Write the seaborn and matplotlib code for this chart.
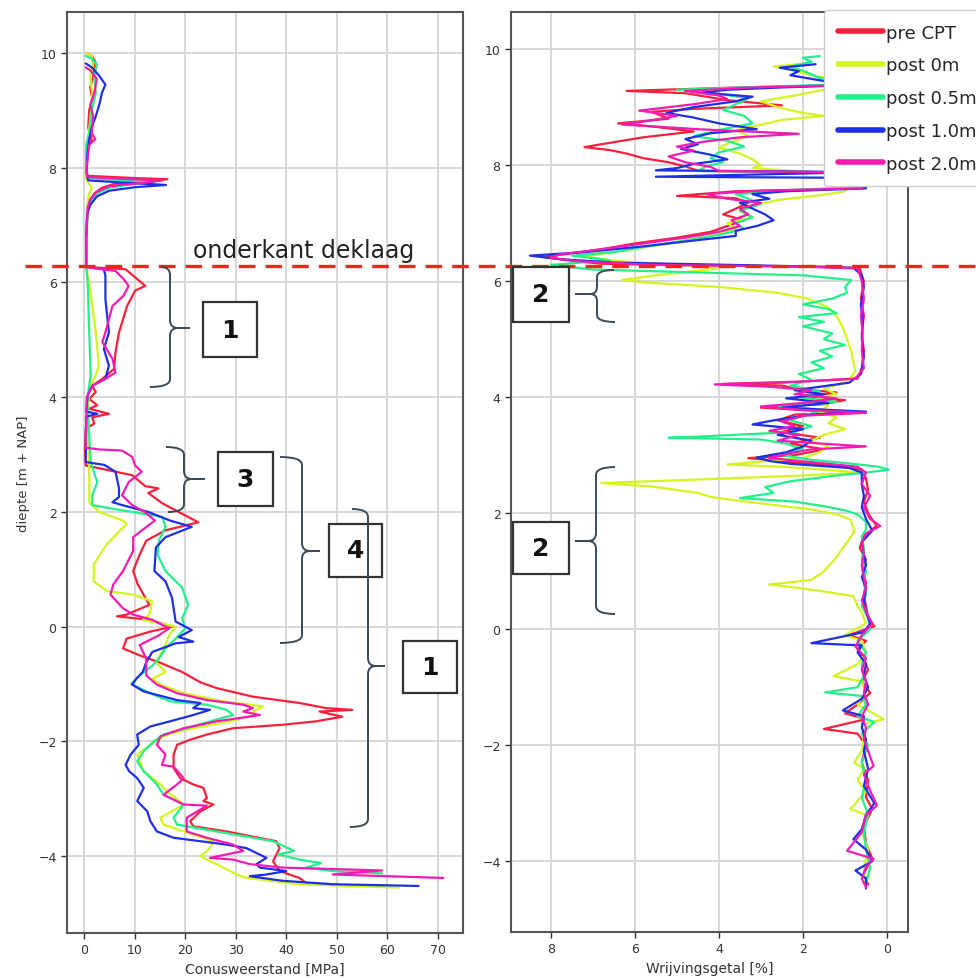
import matplotlib
matplotlib.use("Agg")
import matplotlib.pyplot as plt
import seaborn as sns
import pandas as pd
from matplotlib.lines import Line2D
from matplotlib.patches import Rectangle, PathPatch
from matplotlib.path import Path

SERIES = ["pre CPT", "post 0m", "post 0.5m", "post 1.0m", "post 2.0m"]
COLORS = ["#f8203a", "#d2f51e", "#22f08a", "#1f2fe6", "#f41ab4"]

# ---------------- cone resistance (left panel) ----------------
QC_PRE_DEPTH = [10.0, 9.95, 9.85, 9.6, 9.4, 9.2, 9.0, 8.7, 8.5, 8.3, 8.0, 7.86, 7.82, 7.8, 7.77, 7.72, 7.65, 7.55, 7.4, 7.2, 6.8, 6.27, 6.23, 5.94, 5.86, 5.59, 5.13, 4.78, 4.49, 4.32, 4.2, 4.09, 3.97, 3.86, 3.8, 3.71, 3.65, 3.54, 3.45, 3.1, 2.81, 2.75, 2.64, 2.45, 2.41, 2.33, 2.15, 2.06, 1.82, 1.68, 1.5, 1.26, 0.97, 0.74, 0.38, 0.21, 0.18, 0.12, 0.0, -0.09, -0.21, -0.38, -0.5, -0.62, -0.79, -0.97, -1.07, -1.22, -1.33, -1.42, -1.45, -1.48, -1.57, -1.65, -1.71, -1.77, -1.88, -1.97, -2.06, -2.23, -2.46, -2.64, -2.75, -2.81, -2.99, -3.04, -3.1, -3.22, -3.39, -3.48, -3.57, -3.74, -3.86, -4.09, -4.26, -4.38, -4.47]
QC_PRE_VALUE = [0.5, 1.5, 2.2, 1.8, 1.2, 1.6, 1.0, 0.8, 1.5, 0.6, 0.5, 0.6, 10, 16.5, 12, 6, 3.5, 2, 1, 0.6, 0.4, 0.4, 8.2, 12.1, 10.1, 8.5, 6.9, 6.2, 5.9, 3.6, 1.6, 2.3, 1.0, 2.6, 1.0, 4.9, 1.6, 2.0, 0.3, 0.2, 0.3, 3.6, 9.5, 12.1, 14.7, 12.7, 15.5, 17.4, 22.6, 16.1, 12.3, 11.0, 9.7, 10.6, 12.9, 8.4, 6.5, 12.9, 17.4, 12.9, 8.4, 7.7, 11.0, 14.8, 19.4, 23.0, 26.2, 33.4, 42.6, 47.9, 53.1, 46.6, 51.1, 45.9, 39.3, 29.5, 24.3, 21.0, 18.4, 17.7, 17.7, 19.0, 21.6, 23.6, 24.3, 23.6, 25.6, 23.0, 21.0, 21.6, 28.2, 38.0, 38.7, 37.4, 38.7, 42.6, 44.0]

QC_P0_DEPTH = [10.0, 9.95, 9.8, 9.6, 9.3, 9.0, 8.6, 8.3, 7.9, 7.8, 7.65, 7.55, 7.3, 6.8, 6.27, 6.0, 5.13, 4.55, 4.38, 4.14, 3.68, 2.81, 2.17, 2.0, 1.85, 1.79, 1.44, 1.09, 0.79, 0.62, 0.56, 0.44, 0.21, 0.12, 0.0, -0.15, -0.32, -0.62, -0.79, -0.91, -1.01, -1.16, -1.3, -1.39, -1.48, -1.54, -1.65, -1.77, -1.88, -2.06, -2.23, -2.52, -2.75, -2.87, -3.1, -3.33, -3.45, -3.57, -3.74, -3.86, -4.0, -4.14, -4.32, -4.38, -4.49, -4.55]
QC_P0_VALUE = [0.5, 1.5, 1.8, 1.2, 1.6, 1.4, 0.9, 0.6, 0.3, 0.4, 1.5, 1.0, 0.5, 0.4, 0.4, 1.0, 2.3, 2.9, 2.3, 1.0, 0.7, 1.0, 1.0, 2.9, 7.7, 8.4, 4.5, 1.9, 1.9, 4.5, 9.7, 13.5, 12.9, 11.6, 18.1, 16.8, 16.1, 14.2, 16.1, 13.5, 15.1, 19.7, 27.5, 35.4, 33.4, 34.1, 28.9, 21.6, 16.4, 13.1, 10.5, 11.8, 15.1, 16.4, 19.7, 15.1, 15.7, 19.7, 25.6, 24.9, 23.0, 26.2, 30.2, 32.1, 42.6, 62.3]

QC_P05_DEPTH = [9.95, 9.9, 9.8, 9.6, 9.3, 9.0, 8.6, 8.4, 8.0, 7.82, 7.78, 7.75, 7.72, 7.65, 7.55, 7.4, 7.2, 6.8, 6.27, 6.0, 5.13, 4.38, 3.97, 2.87, 2.52, 2.29, 2.12, 2.05, 1.95, 1.91, 1.74, 1.5, 1.26, 0.97, 0.68, 0.38, 0.15, -0.03, -0.21, -0.38, -0.56, -0.68, -0.85, -1.0, -1.19, -1.3, -1.36, -1.45, -1.54, -1.65, -1.77, -1.88, -2.0, -2.17, -2.35, -2.52, -2.75, -2.93, -3.1, -3.33, -3.45, -3.51, -3.62, -3.74, -3.91, -3.97, -4.06, -4.12, -4.2, -4.26, -4.3]
QC_P05_VALUE = [0.3, 1.5, 2.5, 2.0, 2.3, 1.5, 1.0, 0.4, 0.4, 0.6, 8, 14, 10, 5, 2.5, 1.2, 0.7, 0.5, 0.4, 0.7, 1.0, 1.3, 0.6, 1.3, 2.6, 1.6, 1.6, 6.0, 13.0, 15.5, 16.1, 14.8, 14.5, 16.1, 19.4, 20.6, 19.4, 20.0, 18.1, 16.1, 14.8, 13.5, 11.0, 9.3, 13.8, 17.0, 24.3, 28.2, 29.5, 24.9, 20.3, 15.7, 13.8, 11.8, 10.5, 11.8, 14.4, 15.7, 19.7, 17.7, 18.4, 22.3, 29.5, 37.4, 41.6, 38.4, 42.6, 46.9, 43.9, 49.2, 59.0]

QC_P10_DEPTH = [9.82, 9.75, 9.6, 9.45, 9.3, 9.1, 8.9, 8.7, 8.5, 8.2, 7.9, 7.78, 7.74, 7.7, 7.66, 7.6, 7.5, 7.35, 7.2, 6.8, 6.27, 6.23, 6.12, 5.71, 5.13, 4.84, 4.55, 4.32, 4.2, 4.03, 3.75, 3.71, 3.66, 2.87, 2.82, 2.7, 2.41, 2.26, 2.17, 2.12, 2.0, 1.85, 1.74, 1.56, 1.38, 0.97, 0.79, 0.5, 0.09, -0.06, -0.18, -0.26, -0.29, -0.44, -0.62, -0.79, -0.91, -1.01, -1.13, -1.28, -1.33, -1.42, -1.45, -1.54, -1.65, -1.74, -1.88, -2.06, -2.23, -2.41, -2.52, -2.64, -2.81, -3.04, -3.22, -3.39, -3.57, -3.68, -3.74, -3.8, -3.86, -4.03, -4.14, -4.2, -4.26, -4.32, -4.35, -4.43, -4.49, -4.52]
QC_P10_VALUE = [0.3, 1.5, 3.0, 4.2, 3.5, 3.0, 2.3, 1.5, 1.0, 0.6, 0.5, 0.8, 8, 16.2, 10, 5, 2.5, 1.2, 0.6, 0.4, 0.4, 3.9, 4.2, 4.2, 4.9, 3.9, 4.9, 4.2, 1.6, 0.7, 0.4, 2.6, 0.4, 0.3, 4.0, 6.2, 6.9, 6.9, 5.6, 7.5, 12.7, 17.0, 21.3, 16.1, 14.2, 13.9, 16.1, 17.4, 18.1, 21.3, 18.7, 21.6, 18.1, 13.5, 12.3, 11.6, 10.3, 9.5, 11.8, 18.4, 23.0, 21.6, 24.9, 21.6, 17.0, 13.1, 10.5, 10.8, 9.2, 8.2, 8.9, 10.5, 11.8, 10.5, 12.5, 13.1, 14.4, 17.7, 23.0, 28.2, 32.1, 36.1, 34.1, 34.8, 40.0, 36.1, 32.8, 39.3, 49.2, 66.2]

QC_P20_DEPTH = [9.75, 9.7, 9.55, 9.3, 9.1, 8.9, 8.6, 8.5, 8.4, 8.0, 7.84, 7.8, 7.78, 7.74, 7.68, 7.58, 7.45, 7.3, 6.8, 6.27, 6.2, 6.06, 5.94, 5.77, 5.59, 5.13, 4.96, 4.67, 4.43, 4.32, 4.2, 4.0, 3.12, 3.09, 3.07, 2.96, 2.81, 2.7, 2.52, 2.29, 2.12, 2.0, 1.85, 1.65, 1.56, 1.32, 0.97, 0.74, 0.56, 0.32, 0.21, 0.12, -0.03, -0.15, -0.32, -0.56, -0.85, -1.01, -1.16, -1.28, -1.36, -1.42, -1.48, -1.54, -1.65, -1.77, -1.91, -2.06, -2.23, -2.41, -2.44, -2.64, -2.75, -2.93, -3.1, -3.12, -3.33, -3.57, -3.68, -3.8, -3.91, -4.03, -4.06, -4.14, -4.2, -4.25, -4.32, -4.38]
QC_P20_VALUE = [0.3, 1.2, 2.5, 2.0, 1.2, 1.8, 1.5, 2.2, 1.0, 0.5, 0.6, 9, 15.5, 12, 5, 2.5, 1.2, 0.7, 0.4, 0.4, 6.2, 7.8, 8.8, 7.8, 5.6, 4.2, 3.6, 5.6, 6.2, 4.2, 1.6, 0.5, 0.3, 2.9, 7.5, 9.5, 10.1, 11.4, 8.8, 7.5, 9.5, 12.0, 14.0, 11.0, 9.7, 9.7, 7.7, 5.8, 5.2, 7.7, 9.7, 13.5, 16.8, 14.8, 11.0, 12.3, 12.3, 14.4, 18.4, 24.3, 31.5, 33.4, 31.5, 34.8, 26.2, 19.7, 15.1, 14.4, 16.1, 15.4, 17.7, 19.7, 18.4, 15.7, 19.7, 24.3, 20.3, 20.3, 24.3, 29.5, 31.5, 24.9, 29.5, 32.8, 39.3, 59.0, 49.2, 71.1]

# ---------------- friction ratio (right panel) ----------------
FR_PRE_DEPTH = [9.5, 9.38, 9.34, 9.28, 9.24, 9.12, 9.03, 8.97, 8.92, 8.8, 8.72, 8.66, 8.58, 8.48, 8.36, 8.31, 8.26, 8.2, 8.12, 8.05, 7.98, 7.9, 7.87, 7.7, 7.6, 7.55, 7.47, 7.43, 7.35, 7.25, 7.15, 7.05, 6.95, 6.85, 6.75, 6.65, 6.55, 6.47, 6.42, 6.36, 6.3, 6.27, 6.25, 6.22, 6.0, 5.7, 5.4, 5.1, 4.8, 4.5, 4.32, 4.27, 4.23, 4.2, 4.15, 4.08, 4.0, 3.95, 3.88, 3.82, 3.77, 3.74, 3.7, 3.6, 3.5, 3.4, 3.3, 3.2, 3.1, 3.0, 2.95, 2.9, 2.82, 2.75, 2.6, 2.4, 2.2, 2.0, 1.78, 1.6, 1.4, 1.2, 1.0, 0.8, 0.6, 0.4, 0.2, 0.05, -0.1, -0.2, -0.35, -0.5, -0.7, -0.9, -1.1, -1.3, -1.45, -1.55, -1.72, -1.8, -2.0, -2.3, -2.6, -2.9, -3.1, -3.4, -3.7, -3.95, -4.2, -4.4]
FR_PRE_VALUE = [0.5, 0.9, 3.5, 6.2, 4.8, 3.8, 2.5, 4.6, 5.6, 5.2, 6.4, 5.5, 4.6, 5.8, 6.8, 7.2, 6.6, 6.2, 5.8, 5.2, 4.8, 4.5, 0.5, 0.4, 0.6, 3.6, 5.0, 3.6, 3.3, 3.6, 3.9, 3.4, 3.8, 4.2, 5.0, 6.0, 6.8, 7.6, 8.2, 7.6, 6.8, 4.0, 1.5, 0.65, 0.55, 0.62, 0.55, 0.6, 0.55, 0.6, 0.7, 2.0, 3.9, 2.5, 2.2, 1.2, 2.0, 1.0, 1.5, 3.0, 1.8, 0.5, 2.2, 2.6, 2.0, 2.5, 1.6, 2.3, 1.5, 2.2, 3.3, 2.6, 1.2, 0.6, 0.5, 0.45, 0.55, 0.45, 0.25, 0.55, 0.65, 0.5, 0.58, 0.5, 0.55, 0.5, 0.45, 0.3, 0.9, 0.5, 0.7, 0.55, 0.45, 0.6, 0.4, 0.7, 1.0, 0.5, 1.5, 0.7, 0.5, 0.6, 0.45, 0.5, 0.35, 0.55, 0.5, 0.35, 0.55, 0.45]

FR_P0_DEPTH = [9.75, 9.7, 9.65, 9.55, 9.45, 9.38, 9.3, 9.2, 9.1, 9.0, 8.9, 8.85, 8.78, 8.68, 8.6, 8.5, 8.4, 8.3, 8.2, 8.1, 8.0, 7.95, 7.9, 7.85, 7.7, 7.55, 7.48, 7.4, 7.3, 7.2, 7.1, 7.0, 6.9, 6.8, 6.7, 6.6, 6.5, 6.43, 6.35, 6.28, 6.22, 6.1, 6.02, 5.98, 5.9, 5.8, 5.7, 5.55, 5.4, 5.2, 5.0, 4.8, 4.6, 4.45, 4.35, 4.25, 4.15, 4.05, 3.95, 3.85, 3.75, 3.65, 3.55, 3.45, 3.35, 3.25, 3.15, 3.05, 2.95, 2.84, 2.8, 2.75, 2.7, 2.65, 2.58, 2.52, 2.46, 2.4, 2.35, 2.28, 2.24, 2.15, 2.06, 1.98, 1.89, 1.75, 1.66, 1.5, 1.35, 1.2, 1.0, 0.85, 0.77, 0.72, 0.65, 0.57, 0.4, 0.28, 0.1, -0.1, -0.2, -0.4, -0.6, -0.81, -0.9, -1.1, -1.3, -1.55, -1.65, -1.85, -2.1, -2.3, -2.4, -2.6, -2.8, -3.1, -3.2, -3.5, -3.8, -4.1, -4.4]
FR_P0_VALUE = [2.0, 2.7, 2.3, 1.8, 1.0, 0.6, 1.5, 2.2, 3.0, 2.6, 2.0, 1.5, 2.5, 3.1, 3.6, 3.3, 3.7, 4.0, 3.5, 3.2, 3.0, 3.2, 2.2, 1.0, 0.8, 1.0, 1.6, 2.6, 3.2, 3.5, 3.2, 3.8, 3.6, 4.3, 4.8, 5.6, 6.5, 7.2, 6.5, 5.0, 4.0, 5.5, 6.3, 5.8, 4.0, 2.6, 1.9, 1.4, 1.2, 1.05, 0.95, 0.85, 0.8, 0.75, 0.85, 1.0, 1.5, 1.2, 1.8, 1.4, 1.6, 1.2, 1.4, 1.0, 1.5, 1.8, 1.4, 1.6, 2.0, 3.8, 2.5, 1.5, 0.6, 2.0, 4.5, 6.8, 5.6, 5.0, 4.5, 4.2, 3.8, 2.8, 1.75, 1.2, 0.87, 0.8, 0.79, 0.95, 1.1, 1.25, 1.5, 1.8, 2.8, 2.2, 1.5, 0.8, 0.7, 0.6, 0.5, 1.0, 0.6, 0.5, 0.7, 1.27, 0.6, 0.5, 0.7, 0.08, 0.6, 0.55, 0.6, 0.78, 0.55, 0.7, 0.5, 0.87, 0.5, 0.6, 0.45, 0.55, 0.5]

FR_P05_DEPTH = [9.88, 9.85, 9.78, 9.7, 9.6, 9.5, 9.4, 9.35, 9.3, 9.25, 9.15, 9.05, 8.95, 8.85, 8.72, 8.62, 8.5, 8.42, 8.32, 8.22, 8.12, 8.05, 7.98, 7.9, 7.86, 7.62, 7.58, 7.5, 7.42, 7.33, 7.22, 7.1, 7.0, 6.9, 6.8, 6.7, 6.6, 6.5, 6.44, 6.36, 6.28, 6.2, 6.1, 6.02, 5.9, 5.8, 5.7, 5.6, 5.52, 5.45, 5.38, 5.3, 5.22, 5.1, 5.0, 4.9, 4.8, 4.7, 4.6, 4.5, 4.4, 4.3, 4.2, 4.1, 4.0, 3.92, 3.85, 3.78, 3.7, 3.6, 3.5, 3.4, 3.32, 3.3, 3.27, 3.2, 3.1, 3.0, 2.92, 2.85, 2.8, 2.75, 2.7, 2.65, 2.55, 2.45, 2.35, 2.26, 2.2, 2.12, 2.05, 1.98, 1.85, 1.72, 1.6, 1.4, 1.2, 1.0, 0.8, 0.6, 0.4, 0.2, 0.0, -0.2, -0.4, -0.6, -0.8, -1.0, -1.09, -1.15, -1.3, -1.5, -1.6, -1.8, -2.0, -2.3, -2.6, -2.9, -3.2, -3.5, -3.8, -4.1, -4.4]
FR_P05_VALUE = [1.6, 2.0, 1.8, 2.3, 1.9, 1.6, 0.8, 3.0, 5.0, 4.2, 3.3, 3.6, 3.9, 3.4, 3.2, 3.9, 4.6, 3.8, 3.4, 4.0, 4.2, 3.9, 4.3, 4.5, 0.5, 0.6, 2.0, 3.6, 3.3, 3.0, 3.5, 3.2, 3.6, 3.4, 4.0, 4.8, 5.7, 6.5, 7.5, 6.6, 8.0, 7.0, 2.0, 0.85, 1.0, 0.95, 1.3, 2.0, 1.4, 1.2, 2.1, 1.5, 2.0, 1.3, 1.5, 1.0, 1.6, 1.3, 1.8, 1.5, 2.1, 1.8, 2.3, 1.6, 2.1, 1.2, 2.6, 1.5, 1.9, 2.3, 1.8, 2.2, 4.5, 5.2, 3.0, 2.4, 2.0, 2.5, 1.8, 0.8, 0.2, -0.04, 0.5, 1.2, 2.3, 2.9, 2.7, 3.5, 2.2, 1.5, 1.0, 0.7, 0.5, 0.5, 0.6, 0.55, 0.6, 0.5, 0.55, 0.5, 0.6, 0.45, 0.4, 0.7, 0.5, 0.6, 0.55, 0.7, 1.47, 0.6, 0.5, 0.7, 0.3, 0.6, 0.45, 0.6, 0.5, 0.6, 0.45, 0.55, 0.5, 0.4, 0.5]

FR_P10_DEPTH = [9.74, 9.68, 9.62, 9.55, 9.45, 9.38, 9.34, 9.3, 9.25, 9.18, 9.1, 9.0, 8.9, 8.82, 8.72, 8.62, 8.55, 8.45, 8.36, 8.28, 8.18, 8.1, 8.02, 7.95, 7.91, 7.88, 7.84, 7.8, 7.78, 7.6, 7.55, 7.5, 7.42, 7.35, 7.25, 7.15, 7.05, 6.95, 6.87, 6.78, 6.7, 6.6, 6.5, 6.44, 6.38, 6.32, 6.27, 6.23, 6.1, 5.9, 5.6, 5.3, 5.0, 4.7, 4.4, 4.25, 4.12, 4.05, 3.98, 3.9, 3.82, 3.75, 3.7, 3.6, 3.53, 3.45, 3.35, 3.25, 3.15, 3.05, 2.96, 2.9, 2.85, 2.78, 2.7, 2.5, 2.3, 2.1, 1.9, 1.7, 1.5, 1.3, 1.1, 0.9, 0.7, 0.5, 0.3, 0.1, -0.05, -0.24, -0.28, -0.4, -0.6, -0.8, -1.0, -1.2, -1.4, -1.5, -1.7, -1.9, -2.1, -2.4, -2.7, -3.0, -3.2, -3.45, -3.62, -3.8, -4.0, -4.16, -4.3, -4.47]
FR_P10_VALUE = [1.7, 2.55, 2.1, 2.3, 1.5, 0.8, 2.5, 3.8, 4.4, 3.2, 3.6, 4.6, 5.25, 4.6, 4.0, 3.1, 4.2, 4.8, 4.5, 4.9, 4.2, 3.8, 4.6, 5.0, 5.5, 0.5, 3.0, 5.5, 0.5, 0.5, 2.4, 3.2, 2.8, 3.5, 3.2, 2.9, 2.7, 3.1, 3.6, 3.6, 4.6, 5.8, 7.2, 8.5, 7.8, 6.5, 3.0, 0.8, 0.6, 0.55, 0.62, 0.58, 0.6, 0.55, 0.62, 0.9, 2.2, 1.5, 2.4, 1.4, 2.5, 0.5, 1.8, 2.7, 3.2, 2.0, 2.6, 1.8, 2.0, 2.4, 3.1, 2.8, 2.3, 0.9, 0.6, 0.6, 0.55, 0.6, 0.5, 0.35, 0.6, 0.55, 0.5, 0.6, 0.5, 0.55, 0.5, 0.4, 0.55, 1.8, 0.6, 0.7, 0.5, 0.55, 0.45, 0.6, 1.05, 0.55, 0.6, 0.5, 0.55, 0.45, 0.55, 0.3, 0.5, 0.6, 0.8, 0.5, 0.35, 0.75, 0.5, 0.5]

FR_P20_DEPTH = [9.5, 9.38, 9.34, 9.28, 9.2, 9.14, 9.05, 8.94, 8.85, 8.75, 8.7, 8.62, 8.54, 8.48, 8.4, 8.32, 8.25, 8.15, 8.05, 7.97, 7.9, 7.87, 7.6, 7.56, 7.5, 7.42, 7.35, 7.25, 7.15, 7.05, 6.95, 6.85, 6.75, 6.65, 6.55, 6.46, 6.4, 6.34, 6.28, 6.25, 6.22, 6.0, 5.7, 5.4, 5.1, 4.8, 4.5, 4.32, 4.25, 4.22, 4.18, 4.12, 4.05, 3.98, 3.9, 3.84, 3.78, 3.73, 3.68, 3.58, 3.5, 3.42, 3.35, 3.25, 3.15, 3.1, 3.02, 2.95, 2.88, 2.8, 2.7, 2.5, 2.3, 2.1, 1.9, 1.78, 1.65, 1.5, 1.3, 1.1, 0.9, 0.7, 0.5, 0.3, 0.1, -0.1, -0.3, -0.5, -0.7, -0.9, -1.1, -1.3, -1.5, -1.7, -1.9, -2.1, -2.36, -2.5, -2.7, -3.04, -3.2, -3.5, -3.82, -3.96, -4.1, -4.3, -4.45]
FR_P20_VALUE = [0.5, 0.9, 3.2, 4.8, 4.0, 3.8, 4.6, 5.9, 5.0, 5.8, 6.3, 4.5, 2.1, 3.5, 4.4, 5.0, 4.6, 5.2, 4.8, 4.2, 4.0, 0.5, 0.6, 3.0, 4.3, 3.8, 3.0, 3.5, 3.3, 3.7, 3.5, 4.0, 4.8, 5.8, 6.8, 7.8, 8.0, 7.3, 5.5, 2.0, 0.7, 0.6, 0.55, 0.62, 0.58, 0.6, 0.55, 0.75, 2.5, 4.1, 2.8, 1.8, 2.2, 1.2, 2.0, 3.0, 2.0, 0.5, 2.0, 2.5, 2.2, 2.8, 2.1, 2.6, 0.5, 1.8, 2.4, 2.8, 1.8, 0.7, 0.5, 0.6, 0.4, 0.55, 0.4, 0.16, 0.5, 0.6, 0.55, 0.6, 0.55, 0.5, 0.6, 0.5, 0.35, 0.6, 0.75, 0.5, 0.6, 0.5, 0.55, 0.45, 0.6, 0.5, 0.55, 0.45, 0.32, 0.55, 0.45, 0.24, 0.5, 0.6, 0.95, 0.32, 0.5, 0.6, 0.5]

QC_DEPTHS = [QC_PRE_DEPTH, QC_P0_DEPTH, QC_P05_DEPTH, QC_P10_DEPTH, QC_P20_DEPTH]
QC_VALUES = [QC_PRE_VALUE, QC_P0_VALUE, QC_P05_VALUE, QC_P10_VALUE, QC_P20_VALUE]
FR_DEPTHS = [FR_PRE_DEPTH, FR_P0_DEPTH, FR_P05_DEPTH, FR_P10_DEPTH, FR_P20_DEPTH]
FR_VALUES = [FR_PRE_VALUE, FR_P0_VALUE, FR_P05_VALUE, FR_P10_VALUE, FR_P20_VALUE]


def build(depths, values):
    rows = []
    for name, d, v in zip(SERIES, depths, values):
        assert len(d) == len(v), (name, len(d), len(v))
        for i, (dd, vv) in enumerate(zip(d, v)):
            rows.append((name, i, dd, vv))
    return pd.DataFrame(rows, columns=["series", "idx", "depth", "value"])


df_qc = build(QC_DEPTHS, QC_VALUES)
df_fr = build(FR_DEPTHS, FR_VALUES)

sns.set_theme(style="ticks")
plt.rcParams["font.family"] = ["DejaVu Sans"]

W, H = 976, 979
fig = plt.figure(figsize=(W / 100, H / 100), dpi=100)


def fx(px):
    return px / W


def fy(py):
    return 1 - py / H


axL = fig.add_axes([fx(67), fy(934), (463 - 67) / W, (934 - 13) / H])
axR = fig.add_axes([fx(511), fy(933), (908 - 511) / W, (933 - 13) / H])

for ax, df in ((axL, df_qc), (axR, df_fr)):
    sns.lineplot(data=df, x="value", y="depth", hue="series", hue_order=SERIES,
                 palette=COLORS, sort=False, estimator=None, lw=1.6,
                 legend=False, ax=ax)
    ax.grid(True, color="#d4d4d4", lw=1.3)
    ax.set_axisbelow(True)
    for s in ax.spines.values():
        s.set_color("#555555")
        s.set_linewidth(1.5)
    ax.tick_params(labelsize=9, colors="#333333", length=4, width=1)
    ax.set_yticks(range(-4, 11, 2))

axL.set_xticks(range(0, 80, 10))
axL.set_xlim(-3.4, 75)
axL.set_ylim(-5.34, 10.715)
axL.set_xlabel("Conusweerstand [MPa]", fontsize=10, color="#333333")
axL.set_ylabel("diepte [m + NAP]", fontsize=9.5, color="#333333", labelpad=6)

axR.set_xticks(range(0, 10, 2))
axR.set_xlim(8.95, -0.5)
axR.set_ylim(-5.22, 10.64)
axR.set_xlabel("Wrijvingsgetal [%]", fontsize=10, color="#333333")
axR.set_ylabel("")

# dashed boundary line across figure
fig.add_artist(Line2D([fx(25), fx(976)], [fy(267), fy(267)], transform=fig.transFigure,
                      color="#ff2020", lw=2.4, ls=(0, (5, 3)), zorder=10))
fig.text(fx(304), fy(251), "onderkant deklaag", ha="center", va="center",
         fontsize=17, color="#222222")


def brace(x_te, y_top, x_v, y_mid, x_tip, y_bot, x_be, r=8):
    s = 1 if x_tip > x_v else -1
    pts = [
        (x_te, y_top), (x_v, y_top), (x_v, y_top + r),
        (x_v, y_mid - r), (x_v, y_mid), (x_v + s * r, y_mid),
        (x_tip, y_mid), (x_v + s * r, y_mid),
        (x_v, y_mid), (x_v, y_mid + r),
        (x_v, y_bot - r), (x_v, y_bot), (x_be, y_bot),
    ]
    codes = [Path.MOVETO, Path.CURVE3, Path.CURVE3,
             Path.LINETO, Path.CURVE3, Path.CURVE3,
             Path.LINETO, Path.LINETO,
             Path.CURVE3, Path.CURVE3,
             Path.LINETO, Path.CURVE3, Path.CURVE3]
    verts = [(fx(x), fy(y)) for x, y in pts]
    fig.add_artist(PathPatch(Path(verts, codes), transform=fig.transFigure,
                             fill=False, edgecolor="#3c4a58", lw=1.4, zorder=11))


def numbox(x0, y0, x1, y1, label):
    fig.add_artist(Rectangle((fx(x0), fy(y1)), (x1 - x0) / W, (y1 - y0) / H,
                             transform=fig.transFigure, facecolor="white",
                             edgecolor="#333333", lw=1.6, zorder=11))
    fig.text(fx((x0 + x1) / 2), fy((y0 + y1) / 2), label, ha="center", va="center",
             fontsize=18, fontweight="bold", color="#111111", zorder=12)


brace(161, 268, 170, 329, 190, 388, 150)
numbox(203, 303, 257, 358, "1")
brace(166, 448, 184, 480, 205, 513, 168)
numbox(218, 453, 273, 507, "3")
brace(280, 458, 302, 552, 320, 644, 280)
numbox(329, 525, 382, 578, "4")
brace(352, 510, 368, 667, 385, 828, 350)
numbox(403, 642, 457, 694, "1")
brace(614, 271, 597, 295, 575, 323, 615, r=7)
numbox(513, 268, 569, 323, "2")
brace(615, 468, 596, 542, 575, 615, 615)
numbox(513, 523, 569, 575, "2")

handles = [Line2D([0], [0], color=c, lw=4) for c in COLORS]
fig.legend(handles, SERIES, loc="upper left", bbox_to_anchor=(fx(824), fy(11)),
           borderaxespad=0, fontsize=13, frameon=True, framealpha=1,
           edgecolor="#cccccc", handlelength=2.5, handletextpad=0.2,
           labelspacing=0.82, borderpad=0.75, fancybox=True)

fig.savefig("out.png", dpi=100)
